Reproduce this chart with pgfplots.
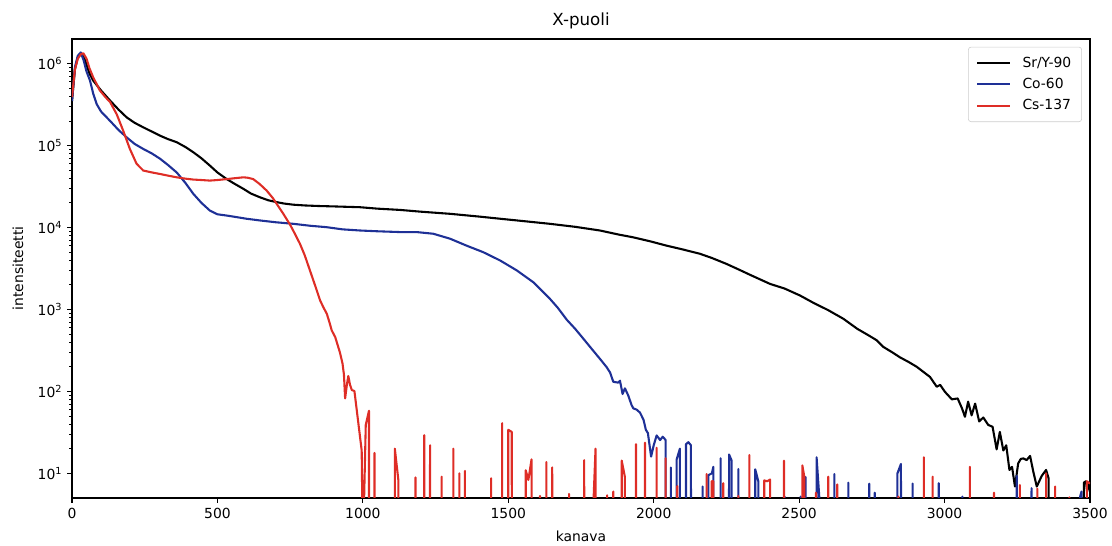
\documentclass[border=0pt]{standalone}
\usepackage{fontspec}
\setmainfont{DejaVu Sans}
\usepackage{pgfplots}
\pgfplotsset{compat=1.18}
\definecolor{srcol}{RGB}{0,0,0}
\definecolor{cocol}{RGB}{30,48,150}
\definecolor{cscol}{RGB}{222,45,38}
\definecolor{legframe}{RGB}{204,204,204}
\begin{document}
\begin{tikzpicture}
\path[use as bounding box] (-51.84pt,-34.56pt) rectangle (748.8pt,358.56pt);
\begin{axis}[
  at={(0,0)}, anchor=south west,
  scale only axis, width=732.96pt, height=330.48pt,
  ymode=log, xmin=0, xmax=3500, ymin=5, ymax=2e6,
  xtick={0,500,1000,1500,2000,2500,3000,3500},
  xticklabels={0,500,1000,1500,2000,2500,3000,3500},
  ytick={10,100,1000,10000,100000,1000000},
  yticklabels={10\textsuperscript{1},10\textsuperscript{2},10\textsuperscript{3},10\textsuperscript{4},10\textsuperscript{5},10\textsuperscript{6}},
  xtick pos=bottom, ytick pos=left,
  tick align=outside,
  major tick length=3.5pt, minor tick length=2pt,
  every tick/.style={black, line width=0.8pt},
  minor tick style={line width=0.6pt},
  axis line style={line width=0.8pt},
  tick label style={font=\fontsize{10}{12}\selectfont},
  title={X-puoli},
  title style={at={(axis description cs:0.5,1.0118)}, anchor=base, inner sep=0pt, font=\fontsize{12}{14}\selectfont},
  xlabel={kanava},
  ylabel={intensiteetti},
  every axis x label/.style={at={(axis description cs:0.5,-0.0938)}, anchor=base, inner sep=0pt, font=\fontsize{10}{12}\selectfont},
  every axis y label/.style={at={(axis description cs:-0.0531,0.5)}, rotate=90, anchor=center, inner sep=0pt, font=\fontsize{10}{12}\selectfont},
  legend style={at={(axis description cs:1,1)}, anchor=north east, xshift=-5.8pt, yshift=-5.6pt,
     draw=legframe, rounded corners=2pt, inner xsep=5.5pt, inner ysep=5pt,
     font=\fontsize{10}{12}\selectfont, row sep=2.5pt,
     /tikz/every odd column/.append style={column sep=6pt}},
  legend cell align=left,
  legend image code/.code={\draw[#1, line cap=butt] (0pt,0pt) -- (24pt,0pt);},
  every axis plot/.append style={line width=1.5pt, line join=round},
]
\addplot[srcol] coordinates {
(0,3.5e5)(10,8.5e5)(20,1.2e6)(33,1.33e6)(45,1.1e6)(60,7.6e5)(73,6.2e5)(100,4.7e5)(131,3.54e5)(160,2.75e5)(188,2.21e5)(215,1.9e5)(245,1.67e5)(275,1.48e5)(303,1.32e5)(330,1.2e5)(360,1.1e5)(390,9.6e4)(417,8.3e4)(445,7.0e4)(474,5.7e4)(500,4.7e4)(532,3.9e4)(560,3.4e4)(589,2.97e4)(615,2.6e4)(646,2.34e4)(675,2.15e4)(704,2.04e4)(730,1.96e4)(761,1.9e4)(800,1.86e4)(850,1.83e4)(900,1.81e4)(990,1.77e4)(1050,1.7e4)(1128,1.64e4)(1200,1.56e4)(1300,1.47e4)(1400,1.36e4)(1472,1.28e4)(1550,1.2e4)(1643,1.11e4)(1730,1.02e4)(1815,9.2e3)(1880,8.2e3)(1929,7.6e3)(1987,6.8e3)(2045,6.0e3)(2100,5.4e3)(2159,4.78e3)(2200,4.25e3)(2250,3.6e3)(2290,3.1e3)(2331,2.65e3)(2400,2.05e3)(2450,1.8e3)(2503,1.48e3)(2550,1.2e3)(2600,9.8e2)(2652,7.7e2)(2700,5.8e2)(2740,4.8e2)(2767,4.2e2)(2789,3.5e2)(2820,3.0e2)(2847,2.6e2)(2875,2.3e2)(2904,2.0e2)(2930,1.7e2)(2950,1.5e2)(2973,1.14e2)(2985,1.2e2)(3001,99)(3025,80)(3045,82)(3060,62)(3070,49)(3081,75)(3093,51)(3105,71)(3119,43)(3133,48)(3150,39)(3165,37)(3179,19.6)(3190,32)(3202,19)(3212,22)(3223,11)(3232,12)(3242,6.9)(3253,13.2)(3262,15)(3271,15.2)(3282,14.5)(3294,16.3)(3305,10.5)(3317,6.9)(3334,9.3)(3349,11)(3358,8.6)(3362,1e-50)(3470,1e-50)(3479,7.7)(3486,8)(3490,6)(3500,8)
};
\addlegendentry{Sr/Y-90}
\addplot[cocol] coordinates {
(0,3.5e5)(10,9.0e5)(20,1.25e6)(30,1.37e6)(40,1.1e6)(50,8e5)(62,6.2e5)(73,4.3e5)(85,3.2e5)(100,2.6e5)(131,2.0e5)(160,1.55e5)(188,1.26e5)(215,1.05e5)(245,9.1e4)(275,8.0e4)(303,6.9e4)(330,5.8e4)(360,4.7e4)(390,3.5e4)(417,2.58e4)(445,2.0e4)(474,1.61e4)(500,1.45e4)(532,1.4e4)(560,1.35e4)(600,1.28e4)(646,1.22e4)(700,1.16e4)(761,1.11e4)(820,1.05e4)(875,1.01e4)(930,9.5e3)(990,9.2e3)(1050,9.0e3)(1128,8.8e3)(1185,8.8e3)(1242,8.4e3)(1300,7.3e3)(1357,6.0e3)(1414,5.0e3)(1472,3.96e3)(1529,3.0e3)(1586,2.15e3)(1643,1.35e3)(1670,1.05e3)(1701,7.5e2)(1730,5.8e2)(1758,4.4e2)(1790,3.2e2)(1815,2.5e2)(1838,1.98e2)(1850,1.7e2)(1861,1.31e2)(1878,1.28e2)(1884,1.35e2)(1893,93)(1901,109)(1912,90)(1924,68)(1930,62)(1941,60)(1953,55)(1965,45)(1973,34)(1980,31)(1991,16)(2000,22)(2010,29)(2022,25.5)(2031,28)(2041,25.5)(2045,1e-50)(2056,1e-50)(2059,11.8)(2063,1e-50)(2076,1e-50)(2079,14.8)(2090,20)(2094,1e-50)(2108,1e-50)(2111,22.7)(2119,24)(2128,22)(2132,1e-50)(2165,1e-50)(2168,6.9)(2172,1e-50)(2185,1e-50)(2188,9.5)(2200,10)(2205,12)(2209,1e-50)(2227,1e-50)(2230,15.3)(2234,1e-50)(2256,1e-50)(2259,17)(2268,14.3)(2272,1e-50)(2288,1e-50)(2291,11.3)(2295,1e-50)(2346,1e-50)(2349,11.2)(2360,7.9)(2364,1e-50)(2447,1e-50)(2450,5.2)(2454,1e-50)(2502,1e-50)(2505,5.2)(2509,1e-50)(2519,1e-50)(2522,9)(2526,1e-50)(2557,1e-50)(2560,15.7)(2569,5.3)(2573,1e-50)(2618,1e-50)(2621,9.8)(2625,1e-50)(2666,1e-50)(2669,7.7)(2673,1e-50)(2738,1e-50)(2741,7.5)(2745,1e-50)(2757,1e-50)(2760,5.8)(2764,1e-50)(2835,1e-50)(2838,10)(2850,13)(2860,1e-50)(2887,1e-50)(2890,7.5)(2894,1e-50)(2977,1e-50)(2980,7.6)(2984,1e-50)(3058,1e-50)(3061,5.2)(3065,1e-50)(3245,1e-50)(3248,9.3)(3252,1e-50)(3296,1e-50)(3299,6.6)(3303,1e-50)(3463,1e-50)(3466,5.2)(3471,6)(3475,1e-50)
};
\addlegendentry{Co-60}
\addplot[cscol] coordinates {
(0,3.9e5)(10,8.5e5)(20,1.15e6)(30,1.3e6)(39,1.34e6)(50,1.15e6)(60,8.8e5)(73,6.8e5)(96,4.7e5)(115,3.9e5)(131,3.4e5)(154,2.4e5)(176,1.52e5)(199,9.1e4)(222,6.0e4)(245,4.96e4)(275,4.7e4)(303,4.5e4)(330,4.3e4)(360,4.1e4)(390,3.95e4)(417,3.85e4)(445,3.8e4)(474,3.74e4)(500,3.8e4)(532,3.9e4)(560,4.0e4)(589,4.1e4)(605,4.05e4)(623,3.9e4)(645,3.4e4)(669,2.83e4)(690,2.3e4)(704,1.94e4)(725,1.5e4)(750,1.08e4)(767,8.3e3)(784,6.3e3)(800,4.6e3)(818,3.0e3)(835,2.0e3)(853,1.29e3)(865,1.05e3)(876,8.87e2)(885,7e2)(893,5.55e2)(905,4.6e2)(921,3.0e2)(930,2.2e2)(935,1.6e2)(939,82)(945,120)(950,154)(956,120)(962,104)(971,101)(996,19)(1000,1)(1010,39)(1021,58)(1025,1e-50)(1037,1e-50)(1040,17.8)(1044,1e-50)(1107,1e-50)(1110,20)(1122,8.3)(1126,1e-50)(1178,1e-50)(1181,8.9)(1185,1e-50)(1208,1e-50)(1211,29.3)(1215,1e-50)(1228,1e-50)(1231,22)(1235,1e-50)(1268,1e-50)(1271,9.1)(1275,1e-50)(1308,1e-50)(1311,20)(1315,1e-50)(1329,1e-50)(1332,10)(1336,1e-50)(1348,1e-50)(1351,10.7)(1355,1e-50)(1438,1e-50)(1441,8.7)(1445,1e-50)(1476,1e-50)(1479,41)(1483,1e-50)(1497,1e-50)(1500,34)(1512,32)(1516,1e-50)(1557,1e-50)(1560,10.9)(1569,8.3)(1580,14.8)(1584,1e-50)(1606,1e-50)(1609,5.3)(1613,1e-50)(1628,1e-50)(1631,13.7)(1635,1e-50)(1648,1e-50)(1651,11.8)(1655,1e-50)(1706,1e-50)(1709,5.6)(1713,1e-50)(1758,1e-50)(1761,14.5)(1765,1e-50)(1789,2)(1800,20)(1804,1e-50)(1837,1e-50)(1840,5.4)(1844,1e-50)(1858,1e-50)(1861,6)(1865,1e-50)(1887,1e-50)(1890,14.3)(1901,9)(1905,1e-50)(1936,1e-50)(1939,22.7)(1943,1e-50)(1967,1e-50)(1970,23.6)(1974,1e-50)(2007,1e-50)(2010,20.5)(2014,1e-50)(2038,1e-50)(2041,15.3)(2045,1e-50)(2078,1e-50)(2081,7)(2085,1e-50)(2179,1e-50)(2182,9.8)(2186,1e-50)(2196,1e-50)(2199,8)(2205,8)(2209,1e-50)(2236,1e-50)(2239,7.6)(2243,1e-50)(2288,1e-50)(2291,5.3)(2295,1e-50)(2326,1e-50)(2329,16.7)(2333,1e-50)(2377,1e-50)(2380,8.2)(2390,8.0)(2400,8.4)(2404,1e-50)(2445,1e-50)(2448,14.3)(2452,1e-50)(2508,1e-50)(2511,12.5)(2518,9)(2522,1e-50)(2555,1e-50)(2558,5.8)(2562,1e-50)(2597,1e-50)(2600,9.1)(2606,1e-50)(2628,1e-50)(2631,7.3)(2635,1e-50)(2838,1e-50)(2841,5.2)(2845,1e-50)(2926,1e-50)(2929,15.7)(2933,1e-50)(2955,1e-50)(2959,9.1)(2963,1e-50)(3084,1e-50)(3087,12)(3091,1e-50)(3167,1e-50)(3170,5.8)(3174,1e-50)(3256,1e-50)(3259,7.2)(3263,1e-50)(3316,1e-50)(3319,6.5)(3323,1e-50)(3346,1e-50)(3349,10)(3353,1e-50)(3377,1e-50)(3380,6.9)(3384,1e-50)(3426,1e-50)(3429,5.1)(3433,1e-50)(3486,1e-50)(3489,8)(3500,7.5)
};
\addlegendentry{Cs-137}
\end{axis}
\end{tikzpicture}
\end{document}
